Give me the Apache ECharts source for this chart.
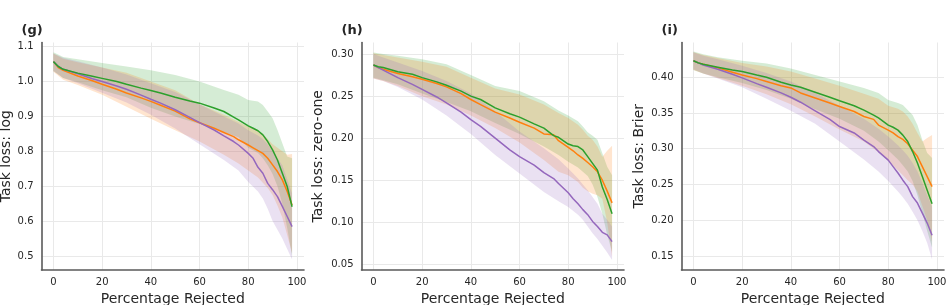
<!DOCTYPE html>
<html><head><meta charset="utf-8">
<script src="https://cdn.jsdelivr.net/npm/echarts@6/dist/echarts.min.js"></script>
<style>html,body{margin:0;padding:0;background:#fff}#c{width:947px;height:305px}</style>
</head><body><div id="c"></div>
<script>
// ---- data ----
const lineX = [0,2,4,10,16,20,26,30,36,40,44,50,56,60,66,70,74,76,80,82,84,86,88,90,92,94,96,98];
const bandX = [0,4,10,20,30,40,50,60,70,76,80,84,86,88,90,92,94,96,98];
const xTicks = [0,20,40,60,80,100];

const panelLabels = ['(g)','(h)','(i)'];
const yTitles = ['Task loss: log','Task loss: zero-one','Task loss: Brier'];
const xTitle = 'Percentage Rejected';
const yTicksG = [0.5,0.6,0.7,0.8,0.9,1.0,1.1];
const yTicksH = [0.05,0.10,0.15,0.20,0.25,0.30];
const yTicksI = [0.15,0.20,0.25,0.30,0.35,0.40];

// panel (g)
const gGreen  = [1.057,1.043,1.035,1.024,1.015,1.009,1.0,0.992,0.981,0.974,0.967,0.955,0.944,0.938,0.924,0.914,0.898,0.89,0.873,0.866,0.859,0.847,0.828,0.804,0.775,0.737,0.699,0.641];
const gOrange = [1.057,1.04,1.032,1.016,1.002,0.992,0.978,0.967,0.953,0.943,0.932,0.915,0.893,0.882,0.866,0.854,0.842,0.833,0.818,0.81,0.802,0.794,0.78,0.761,0.742,0.718,0.685,0.646];
const gPurple = [1.057,1.043,1.035,1.022,1.008,1.0,0.987,0.978,0.961,0.949,0.938,0.919,0.897,0.882,0.861,0.844,0.828,0.818,0.794,0.78,0.754,0.737,0.708,0.69,0.67,0.642,0.613,0.584];
const gGreenHi  = [1.084,1.07,1.064,1.053,1.043,1.032,1.019,1.0,0.976,0.962,0.947,0.943,0.933,0.914,0.895,0.861,0.823,0.785,0.78];
const gGreenLo  = [1.03,1.01,0.998,0.975,0.955,0.925,0.9,0.878,0.855,0.84,0.81,0.795,0.78,0.76,0.735,0.70,0.65,0.58,0.50];
const gOrangeHi = [1.08,1.065,1.055,1.04,1.025,1.0,0.975,0.935,0.905,0.885,0.87,0.86,0.85,0.835,0.82,0.81,0.80,0.79,0.792];
const gOrangeLo = [1.028,1.005,0.99,0.962,0.928,0.893,0.86,0.828,0.79,0.765,0.745,0.725,0.71,0.695,0.675,0.645,0.61,0.56,0.508];
const gPurpleHi = [1.08,1.068,1.058,1.04,1.02,0.995,0.97,0.935,0.9,0.88,0.86,0.845,0.835,0.82,0.80,0.78,0.76,0.72,0.68];
const gPurpleLo = [1.03,1.01,0.995,0.968,0.94,0.905,0.865,0.82,0.775,0.745,0.712,0.685,0.665,0.635,0.60,0.575,0.55,0.52,0.49];

// panel (h)
const hGreen  = [0.287,0.285,0.284,0.279,0.276,0.272,0.267,0.263,0.256,0.250,0.246,0.236,0.229,0.225,0.217,0.212,0.203,0.201,0.193,0.191,0.19,0.186,0.178,0.17,0.162,0.142,0.127,0.110];
const hOrange = [0.287,0.284,0.282,0.277,0.273,0.27,0.265,0.261,0.253,0.246,0.24,0.231,0.224,0.219,0.212,0.205,0.204,0.197,0.189,0.185,0.18,0.176,0.171,0.166,0.16,0.15,0.137,0.123];
const hPurple = [0.287,0.284,0.281,0.272,0.264,0.258,0.249,0.242,0.231,0.222,0.214,0.2,0.186,0.178,0.168,0.159,0.152,0.146,0.135,0.128,0.122,0.115,0.109,0.101,0.095,0.088,0.085,0.077];
const hGreenHi  = [0.302,0.30,0.298,0.294,0.288,0.275,0.262,0.256,0.244,0.233,0.227,0.22,0.214,0.207,0.203,0.198,0.182,0.166,0.156];
const hGreenLo  = [0.272,0.269,0.264,0.253,0.243,0.232,0.218,0.205,0.19,0.18,0.172,0.165,0.16,0.155,0.145,0.13,0.11,0.085,0.065];
const hOrangeHi = [0.301,0.299,0.296,0.291,0.285,0.272,0.259,0.252,0.24,0.23,0.224,0.216,0.21,0.203,0.198,0.19,0.178,0.185,0.191];
const hOrangeLo = [0.271,0.268,0.262,0.25,0.24,0.227,0.212,0.195,0.174,0.16,0.156,0.148,0.141,0.137,0.134,0.132,0.128,0.10,0.059];
const hPurpleHi = [0.30,0.296,0.29,0.28,0.268,0.253,0.232,0.208,0.188,0.175,0.164,0.152,0.145,0.138,0.13,0.122,0.11,0.103,0.095];
const hPurpleLo = [0.271,0.268,0.261,0.246,0.227,0.205,0.18,0.158,0.136,0.125,0.118,0.109,0.103,0.095,0.087,0.08,0.072,0.064,0.055];

// panel (i)
const iGreen  = [0.423,0.42,0.418,0.414,0.41,0.408,0.403,0.40,0.393,0.389,0.386,0.379,0.372,0.367,0.36,0.354,0.347,0.343,0.333,0.33,0.326,0.319,0.31,0.296,0.28,0.261,0.242,0.223];
const iOrange = [0.423,0.42,0.418,0.413,0.407,0.403,0.398,0.394,0.388,0.385,0.378,0.371,0.364,0.359,0.352,0.345,0.341,0.333,0.326,0.322,0.317,0.313,0.307,0.298,0.289,0.275,0.261,0.247];
const iPurple = [0.423,0.42,0.417,0.411,0.404,0.399,0.391,0.386,0.378,0.372,0.365,0.353,0.341,0.331,0.322,0.312,0.303,0.296,0.284,0.275,0.266,0.256,0.247,0.233,0.224,0.21,0.196,0.179];
const iGreenHi  = [0.436,0.432,0.428,0.423,0.419,0.412,0.403,0.394,0.385,0.378,0.368,0.364,0.361,0.354,0.347,0.333,0.312,0.294,0.287];
const iGreenLo  = [0.41,0.405,0.4,0.392,0.382,0.37,0.355,0.342,0.325,0.31,0.298,0.285,0.277,0.268,0.255,0.235,0.21,0.185,0.162];
const iOrangeHi = [0.435,0.431,0.427,0.42,0.415,0.408,0.398,0.388,0.377,0.37,0.36,0.356,0.352,0.345,0.335,0.322,0.31,0.315,0.319];
const iOrangeLo = [0.41,0.405,0.399,0.388,0.376,0.362,0.345,0.327,0.31,0.295,0.283,0.27,0.263,0.256,0.25,0.24,0.22,0.2,0.17];
const iPurpleHi = [0.435,0.43,0.425,0.416,0.406,0.394,0.378,0.36,0.342,0.328,0.317,0.305,0.298,0.29,0.28,0.268,0.252,0.235,0.219];
const iPurpleLo = [0.411,0.405,0.398,0.386,0.37,0.353,0.335,0.31,0.285,0.268,0.255,0.24,0.232,0.223,0.212,0.2,0.185,0.168,0.145];

// ---- styling / layout ----
const COL = {green:'#2ca02c', orange:'#ff7f0e', purple:'#9467bd'};
const FILL = {green:'rgba(44,160,44,0.2)', orange:'rgba(255,127,14,0.2)', purple:'rgba(148,103,189,0.2)'};
const FONT = 'DejaVu Sans';

const panels = [
  {left:41.5, yMin:0.4598, yMax:1.1118, yTicks:yTicksG, dec:1, nameGap:28, label:{x:21.5},
   lines:{orange:gOrange, purple:gPurple, green:gGreen},
   bands:{green:[gGreenHi,gGreenLo], orange:[gOrangeHi,gOrangeLo], purple:[gPurpleHi,gPurpleLo]}},
  {left:361.5, yMin:0.0432, yMax:0.3138, yTicks:yTicksH, dec:2, nameGap:36, label:{x:341.5},
   lines:{orange:hOrange, purple:hPurple, green:hGreen},
   bands:{green:[hGreenHi,hGreenLo], orange:[hOrangeHi,hOrangeLo], purple:[hPurpleHi,hPurpleLo]}},
  {left:681.5, yMin:0.1304, yMax:0.4485, yTicks:yTicksI, dec:2, nameGap:35, label:{x:661.5},
   lines:{orange:iOrange, purple:iPurple, green:iGreen},
   bands:{green:[iGreenHi,iGreenLo], orange:[iOrangeHi,iOrangeLo], purple:[iPurpleHi,iPurpleLo]}}
];

const grids=[], xAxes=[], yAxes=[], series=[], graphics=[];
panels.forEach((p,k)=>{
  grids.push({left:p.left, top:42.5, width:262.5, height:227.5, containLabel:false, outerBoundsMode:'none'});
  xAxes.push({type:'value', gridIndex:k, min:-4.9, max:102.9,
    name:xTitle, nameLocation:'middle', nameGap:19,
    nameTextStyle:{fontFamily:FONT, fontSize:14, color:'#262626'},
    axisLine:{show:true, onZero:false, lineStyle:{color:'#5a5a5a', width:1.6}},
    axisTick:{show:false, customValues:xTicks},
    axisLabel:{customValues:xTicks, fontFamily:FONT, fontSize:10, color:'#262626', margin:7},
    splitLine:{show:true, lineStyle:{color:'#e9e9e9', width:1}}});
  yAxes.push({type:'value', gridIndex:k, min:p.yMin, max:p.yMax,
    name:yTitles[k], nameLocation:'middle', nameGap:p.nameGap, nameRotate:90,
    nameTextStyle:{fontFamily:FONT, fontSize:14, color:'#262626'},
    axisLine:{show:true, onZero:false, lineStyle:{color:'#5a5a5a', width:1.6}},
    axisTick:{show:false, customValues:p.yTicks},
    axisLabel:{customValues:p.yTicks, fontFamily:FONT, fontSize:10, color:'#262626', margin:8,
      formatter:(v)=>Number(v).toFixed(p.dec)},
    splitLine:{show:true, lineStyle:{color:'#e9e9e9', width:1}}});
  ['green','orange','purple'].forEach(c=>{
    const hi=p.bands[c][0], lo=p.bands[c][1];
    series.push({type:'custom', xAxisIndex:k, yAxisIndex:k, silent:true, z:1,
      data:[[bandX[0], lo[0]]],
      renderItem:(params, api)=>{
        const pts=[];
        for(let i=0;i<bandX.length;i++) pts.push(api.coord([bandX[i], hi[i]]));
        for(let i=bandX.length-1;i>=0;i--) pts.push(api.coord([bandX[i], lo[i]]));
        return {type:'polygon', shape:{points:pts}, style:{fill:FILL[c]}};
      }});
  });
  ['orange','purple','green'].forEach(c=>{
    series.push({type:'line', xAxisIndex:k, yAxisIndex:k, z:3, showSymbol:false, silent:true,
      data:lineX.map((x,i)=>[x, p.lines[c][i]]),
      lineStyle:{color:COL[c], width:1.5}, itemStyle:{color:COL[c]}});
  });
  graphics.push({type:'text', left:p.label.x, top:24.5,
    style:{text:panelLabels[k], font:'bold 13px "DejaVu Sans"', fill:'#262626'}});
});

const chart = echarts.init(document.getElementById('c'), null, {renderer:'canvas'});
chart.setOption({animation:false, backgroundColor:'#fff',
  grid:grids, xAxis:xAxes, yAxis:yAxes, series:series, graphic:graphics});
</script>
</body></html>
